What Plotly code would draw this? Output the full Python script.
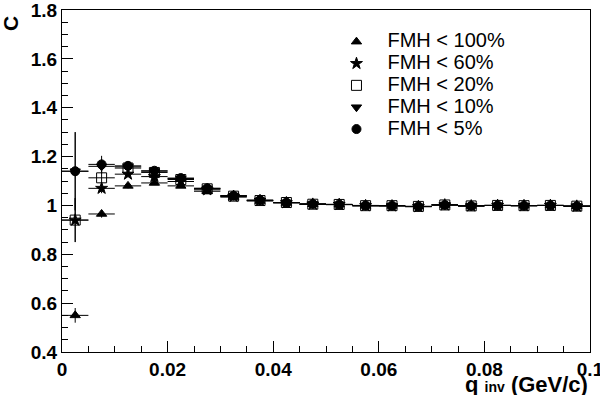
import plotly.graph_objects as go

# ---------------- data ----------------
q_centers = [0.0025, 0.0075, 0.0125, 0.0175, 0.0225, 0.0275, 0.0325, 0.0375, 0.0425, 0.0475,
             0.0525, 0.0575, 0.0625, 0.0675, 0.0725, 0.0775, 0.0825, 0.0875, 0.0925, 0.0975]
bin_half_width = 0.0025

names = ["FMH &lt; 100%", "FMH &lt; 60%", "FMH &lt; 20%", "FMH &lt; 10%", "FMH &lt; 5%"]

x_tick_vals = [0, 0.02, 0.04, 0.06, 0.08, 0.1]
x_tick_text = ["0", "0.02", "0.04", "0.06", "0.08", "0.1"]
y_tick_vals = [0.4, 0.6, 0.8, 1.0, 1.2, 1.4, 1.6, 1.8]
y_tick_text = ["0.4", "0.6", "0.8", "1", "1.2", "1.4", "1.6", "1.8"]

c_fmh100 = [0.55, 0.965, 1.080, 1.092, 1.080, 1.058, 1.034, 1.018, 1.010, 1.005,
            1.003, 0.998, 0.998, 0.995, 1.002, 0.998, 1.000, 0.999, 1.000, 0.997]
c_fmh60 = [0.94, 1.070, 1.128, 1.118, 1.098, 1.064, 1.037, 1.020, 1.011, 1.005,
           1.004, 0.999, 0.998, 0.995, 1.002, 0.998, 1.000, 0.999, 1.000, 0.997]
c_fmh20 = [0.94, 1.113, 1.153, 1.135, 1.106, 1.068, 1.038, 1.020, 1.012, 1.005,
           1.004, 0.999, 0.999, 0.996, 1.002, 0.998, 1.000, 0.999, 1.000, 0.997]
c_fmh10 = [1.14, 1.160, 1.158, 1.140, 1.110, 1.070, 1.040, 1.021, 1.012, 1.006,
           1.004, 0.999, 0.999, 0.996, 1.002, 0.998, 1.000, 0.999, 1.000, 0.997]
c_fmh5 = [1.14, 1.168, 1.162, 1.142, 1.112, 1.070, 1.040, 1.022, 1.012, 1.006,
          1.004, 1.000, 0.999, 0.996, 1.002, 0.998, 1.000, 0.999, 1.000, 0.997]

e_fmh100 = [0.03, 0.015, 0.010, 0.008, 0.006, 0.005, 0.004, 0.004, 0.003, 0.003,
            0.003, 0.003, 0.003, 0.003, 0.003, 0.003, 0.003, 0.003, 0.003, 0.003]
e_fmh60 = [0.09, 0.020, 0.012, 0.009, 0.007, 0.005, 0.004, 0.004, 0.003, 0.003,
           0.003, 0.003, 0.003, 0.003, 0.003, 0.003, 0.003, 0.003, 0.003, 0.003]
e_fmh20 = [0.09, 0.025, 0.014, 0.010, 0.008, 0.006, 0.005, 0.004, 0.004, 0.003,
           0.003, 0.003, 0.003, 0.003, 0.003, 0.003, 0.003, 0.003, 0.003, 0.003]
e_fmh10 = [0.16, 0.030, 0.016, 0.011, 0.008, 0.006, 0.005, 0.004, 0.004, 0.003,
           0.003, 0.003, 0.003, 0.003, 0.003, 0.003, 0.003, 0.003, 0.003, 0.003]
e_fmh5 = [0.16, 0.035, 0.018, 0.012, 0.009, 0.007, 0.005, 0.004, 0.004, 0.003,
          0.003, 0.003, 0.003, 0.003, 0.003, 0.003, 0.003, 0.003, 0.003, 0.003]

series = [c_fmh100, c_fmh60, c_fmh20, c_fmh10, c_fmh5]
errors = [e_fmh100, e_fmh60, e_fmh20, e_fmh10, e_fmh5]
symbols = ["triangle-up", "star", "square-open", "triangle-down", "circle"]
sizes = [9, 9, 10, 9, 9]

# ---------------- figure ----------------
fig = go.Figure()
for name, vals, errs, sym, sz in zip(names, series, errors, symbols, sizes):
    fig.add_trace(go.Scatter(
        x=q_centers, y=vals, mode="markers", name=f"<span style='font-size:20px'>{name}</span>",
        marker=dict(symbol=sym, size=sz, color="black",
                    line=dict(color="black", width=1)),
        error_y=dict(type="data", array=errs, color="black", thickness=1, width=0),
        error_x=dict(type="constant", value=bin_half_width, color="black", thickness=1, width=0),
    ))

font_family = "Liberation Sans, Arial, Helvetica, sans-serif"

fig.update_layout(
    width=600, height=395,
    margin=dict(l=62, r=10, t=10, b=43),
    paper_bgcolor="white", plot_bgcolor="white",
    font=dict(family=font_family, color="black"),
    showlegend=True,
    legend=dict(x=0.499, y=0.954, xanchor="left", yanchor="top",
                bgcolor="rgba(0,0,0,0)", borderwidth=0,
                font=dict(size=14.5, family=font_family, color="black"),
                itemwidth=52, tracegroupgap=0),
    xaxis=dict(range=[0, 0.1], tickmode="array", tickvals=x_tick_vals, ticktext=x_tick_text,
               automargin=False, ticklabeloverflow="allow",
               showgrid=False, zeroline=False,
               showline=True, linecolor="black", linewidth=1, mirror=True,
               ticks="inside", ticklen=11, tickcolor="black", tickwidth=1,
               minor=dict(tick0=0, dtick=0.005, ticks="inside", ticklen=6, tickcolor="black", showgrid=False),
               tickfont=dict(size=19, family=font_family, weight="bold")),
    yaxis=dict(range=[0.4, 1.8], tickmode="array", tickvals=y_tick_vals, ticktext=y_tick_text,
               automargin=False, ticklabeloverflow="allow",
               showgrid=False, zeroline=False,
               showline=True, linecolor="black", linewidth=1, mirror=True,
               ticks="inside", ticklen=11, tickcolor="black", tickwidth=1,
               minor=dict(tick0=0.4, dtick=0.05, ticks="inside", ticklen=6, tickcolor="black", showgrid=False),
               tickfont=dict(size=19, family=font_family, weight="bold")),
)

fig.add_annotation(text="q <span style='font-size:14px'>inv</span> (GeV/c)", xref="paper", yref="paper",
                   x=1.0, y=-0.137, xanchor="right", yanchor="bottom", showarrow=False,
                   font=dict(size=22, family=font_family, weight="bold", color="black"))
fig.add_annotation(text="C", xref="paper", yref="paper",
                   x=-0.0966, y=0.99, xanchor="center", yanchor="top", showarrow=False, textangle=-90,
                   font=dict(size=21, family=font_family, weight="bold", color="black"))

fig.write_html("out.html", config={"displayModeBar": False},
               post_script="document.body.style.margin='0';")
